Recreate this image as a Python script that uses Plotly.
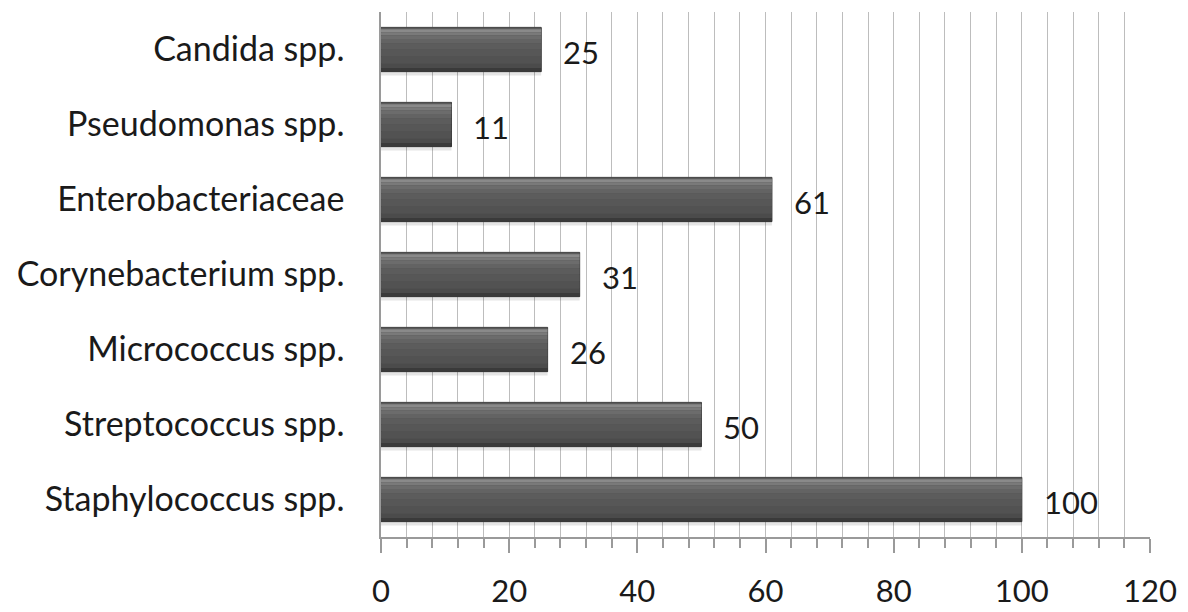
import plotly.graph_objects as go

# Isolate counts by organism group
categories = [
    "Staphylococcus spp.",
    "Streptococcus spp.",
    "Micrococcus spp.",
    "Corynebacterium spp.",
    "Enterobacteriaceae",
    "Pseudomonas spp.",
    "Candida spp.",
]
counts = [100, 50, 26, 31, 61, 11, 25]
x_ticks = [0, 20, 40, 60, 80, 100, 120]

FONT = "Lato"
BAR_W = 0.59

fig = go.Figure()

# soft shadow under each bar
fig.add_trace(go.Bar(
    y=categories, x=counts, orientation="h",
    width=BAR_W, offset=-BAR_W / 2 - 0.05,
    marker=dict(color="rgba(0,0,0,0.10)", line=dict(width=0)),
    hoverinfo="skip", showlegend=False,
))
# main body of the bar
fig.add_trace(go.Bar(
    y=categories, x=counts, orientation="h",
    width=BAR_W, offset=-BAR_W / 2,
    marker=dict(color="#505050", line=dict(color="#303030", width=1)),
    showlegend=False,
))

# shading bands, listed from the top edge downward: (fraction of height, colour)
bands = [
    (0.04, "#5a5a5a"),
    (0.07, "#8a8a8a"),
    (0.07, "#7a7a7a"),
    (0.08, "#6c6c6c"),
    (0.10, "#636363"),
    (0.14, "#5c5c5c"),
    (0.16, "#575757"),
    (0.16, "#525252"),
    (0.10, "#4b4b4b"),
    (0.08, "#3a3a3a"),
]
top = BAR_W / 2
for frac, colour in bands:
    h = BAR_W * frac
    fig.add_trace(go.Bar(
        y=categories, x=counts, orientation="h",
        width=h, offset=top - h,
        marker=dict(color=colour, line=dict(width=0)),
        hoverinfo="skip", showlegend=False,
    ))
    top -= h

for cat, val in zip(categories, counts):
    fig.add_annotation(
        x=val, y=cat, text=str(val), showarrow=False,
        xanchor="left", yanchor="middle", xshift=20, yshift=-2,
        font=dict(family=FONT, size=31, color="#1a1a1a"),
    )

fig.update_layout(
    width=1188, height=612,
    margin=dict(l=381, r=38, t=12, b=75),
    paper_bgcolor="white", plot_bgcolor="white",
    barmode="overlay",
    font=dict(family=FONT, size=34, color="#1a1a1a"),
    xaxis=dict(
        range=[0, 120], tickvals=x_ticks, automargin=False,
        showgrid=True, gridcolor="#bdbdbd", gridwidth=1,
        showline=True, linecolor="#9a9a9a", linewidth=1.5,
        ticks="outside", ticklen=14, tickcolor="#9a9a9a", tickwidth=1.5,
        ticklabelstandoff=12,
        tickfont=dict(family=FONT, size=31, color="#1a1a1a"),
        minor=dict(dtick=4, showgrid=True, gridcolor="#bdbdbd", gridwidth=1,
                   ticks="outside", ticklen=9, tickcolor="#9a9a9a"),
        zeroline=False, fixedrange=True,
    ),
    yaxis=dict(
        categoryorder="array", categoryarray=categories, automargin=False,
        showline=True, linecolor="#9a9a9a", linewidth=1.5,
        ticks="", ticklabelstandoff=28,
        tickfont=dict(family=FONT, size=34, color="#1a1a1a"),
        showgrid=False, fixedrange=True,
    ),
)

fig.write_html("out.html")
